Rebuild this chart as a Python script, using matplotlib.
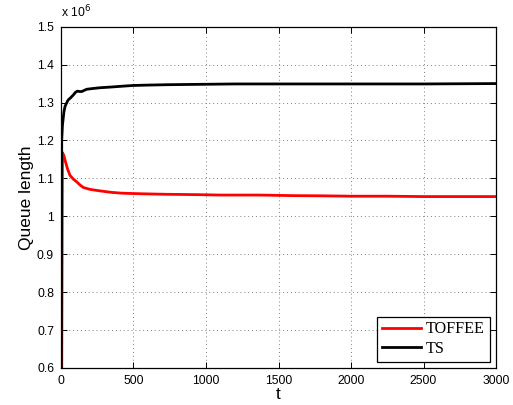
import matplotlib
matplotlib.use("Agg")
import matplotlib.pyplot as plt
import numpy as np

# Queue length over time (in units of 10^6)
t_toffee = [0, 10, 20, 30, 45, 62, 85, 108, 130, 154, 200, 269, 350, 420, 499,
            600, 728, 850, 959, 1100, 1372, 1600, 1800, 2000, 2250, 2500, 2750, 3000]
q_toffee = [0.0, 1.168, 1.160, 1.145, 1.125, 1.108, 1.098, 1.091, 1.083, 1.076,
            1.071, 1.067, 1.063, 1.061, 1.060, 1.059, 1.058, 1.0575, 1.057, 1.056,
            1.056, 1.0545, 1.054, 1.053, 1.053, 1.052, 1.052, 1.052]

t_ts = [0, 5, 10, 20, 28, 40, 50, 65, 85, 100, 113, 130, 143, 160, 177, 220, 269,
        350, 420, 497, 600, 728, 959, 1200, 1500, 2000, 2500, 3000]
q_ts = [0.0, 1.200, 1.240, 1.275, 1.290, 1.300, 1.307, 1.312, 1.320, 1.327, 1.330,
        1.329, 1.329, 1.332, 1.335, 1.337, 1.339, 1.341, 1.343, 1.345, 1.346,
        1.347, 1.348, 1.349, 1.349, 1.349, 1.349, 1.350]

series_names = ["TOFFEE", "TS"]
x_ticks = [0, 500, 1000, 1500, 2000, 2500, 3000]
y_ticks = [0.6, 0.7, 0.8, 0.9, 1.0, 1.1, 1.2, 1.3, 1.4, 1.5]

plt.rcParams["font.family"] = ["Liberation Sans", "DejaVu Sans"]

fig = plt.figure(figsize=(5.13, 4.05), dpi=100)
ax = fig.add_axes([0.1189, 0.0914, 0.848, 0.8427])

ax.plot(t_toffee, q_toffee, color="#ff0000", lw=2.0, label=series_names[0])
ax.plot(t_ts, q_ts, color="black", lw=2.0, label=series_names[1])

ax.set_xlim(0, 3000)
ax.set_ylim(0.6, 1.5)
ax.set_xticks(x_ticks)
ax.set_yticks(y_ticks)
ax.set_xticklabels([f"{v:g}" for v in x_ticks])
ax.set_yticklabels([f"{v:g}" for v in y_ticks])

ax.grid(True, linestyle=(0, (1, 3)), color="0.5", linewidth=0.7)
ax.tick_params(direction="in", length=4, width=0.7, top=True, right=True,
               labelsize=8.7, pad=5, colors="black")
for s in ax.spines.values():
    s.set_linewidth(0.9)

ax.set_xlabel("t", fontsize=12.5, labelpad=0)
ax.set_ylabel("Queue length", fontsize=12.5, labelpad=2)

ax.text(0.0, 1.018, r"x 10$^{6}$", transform=ax.transAxes, fontsize=8.7,
        ha="left", va="bottom")

leg = ax.legend(loc="lower right", prop={"family": "Liberation Serif", "size": 11.6},
                handlelength=2.45, labelspacing=0.2, borderpad=0.3,
                handletextpad=0.3, borderaxespad=0.4, fancybox=False,
                framealpha=1, edgecolor="black")
leg.get_frame().set_linewidth(0.9)

fig.savefig("out.png", dpi=100)
